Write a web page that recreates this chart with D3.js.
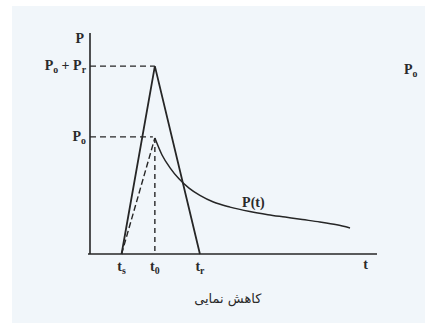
<!DOCTYPE html>
<html>
<head>
<meta charset="utf-8">
<script src="https://cdn.jsdelivr.net/npm/d3@7"></script>
<style>
  body { margin: 0; background: #ffffff; }
  svg text { font-family: "Liberation Serif", serif; fill: #2a2a2a; }
</style>
</head>
<body>
<div id="chart"></div>
<script>
// idealised load curve, in chart units (t: 0-100, P: 0-100)
let tickNames = ["t_s", "t_0", "t_r"];
let tickValues = [11, 22.6, 38.3];
let levelNames = ["P_o + P_r", "P_o"];
let levelValues = [85, 53];
let triangleT = [11, 22.6, 38.3];
let triangleP = [0, 85, 0];
let decayT = [22.6, 25.1, 27.9, 31, 34.5, 38.3, 43, 48.8, 55.7, 62, 68, 74, 80.1, 86, 90.6];
let decayP = [52.5, 44.8, 39, 34, 29.8, 26.5, 23.5, 21.2, 19.2, 17.8, 16.7, 15.6, 14.5, 13.2, 11.8];
let riseT = [11, 22.6];
let riseP = [0, 52.5];

let width = 425, height = 323;
let margin = { top: 33, left: 90, right: 48, bottom: 69 };

let svg = d3.select("#chart").append("svg")
    .attr("width", width)
    .attr("height", height);

svg.append("rect")
    .attr("x", 12).attr("y", 6)
    .attr("width", width - 12).attr("height", height - 6)
    .attr("fill", "#f1f6fa");

let x = d3.scaleLinear().domain([0, 100]).range([margin.left, width - margin.right]);
let y = d3.scaleLinear().domain([0, 100]).range([height - margin.bottom, margin.top]);

let ink = "#262626";
let line = d3.line().x(d => x(d[0])).y(d => y(d[1]));

// axes
svg.append("line")
    .attr("x1", x(0)).attr("x2", x(0))
    .attr("y1", y(0)).attr("y2", y(100))
    .attr("stroke", ink).attr("stroke-width", 1.6);
svg.append("line")
    .attr("x1", x(-0.7)).attr("x2", x(100))
    .attr("y1", y(0)).attr("y2", y(0))
    .attr("stroke", ink).attr("stroke-width", 1.6);

// dashed guides
levelValues.forEach(function(v, i) {
    svg.append("line")
        .attr("x1", x(0)).attr("x2", x(triangleT[1]) - (i ? 2 : 0))
        .attr("y1", y(v)).attr("y2", y(v))
        .attr("stroke", ink).attr("stroke-width", 1.4)
        .attr("stroke-dasharray", "6,4");
});
svg.append("line")
    .attr("x1", x(tickValues[1])).attr("x2", x(tickValues[1]))
    .attr("y1", y(riseP[1])).attr("y2", y(0))
    .attr("stroke", ink).attr("stroke-width", 1.4)
    .attr("stroke-dasharray", "5,4");
svg.append("path")
    .datum(d3.zip(riseT, riseP))
    .attr("d", line)
    .attr("fill", "none").attr("stroke", ink).attr("stroke-width", 1.4)
    .attr("stroke-dasharray", "6,3");

// triangle
svg.append("path")
    .datum(d3.zip(triangleT, triangleP))
    .attr("d", line)
    .attr("fill", "none").attr("stroke", ink).attr("stroke-width", 1.8)
    .attr("stroke-linejoin", "miter");

// decay curve P(t)
svg.append("path")
    .datum(d3.zip(decayT, decayP))
    .attr("d", line.curve(d3.curveMonotoneX))
    .attr("fill", "none").attr("stroke", ink).attr("stroke-width", 1.5);

// labels with subscripts
function subLabel(g, s, xx, yy, anchor, size) {
    let t = g.append("text")
        .attr("x", xx).attr("y", yy)
        .attr("text-anchor", anchor)
        .attr("font-size", size)
        .attr("font-weight", "bold");
    let shift = 0;
    s.split(/(_\w)/).forEach(function(part) {
        if (!part) return;
        if (part[0] === "_") {
            t.append("tspan").attr("dy", 3 - shift).attr("font-size", size * 0.7).text(part[1]);
            shift = 3;
        } else {
            t.append("tspan").attr("dy", -shift).text(part);
            shift = 0;
        }
    });
    return t;
}

svg.append("text")
    .attr("x", x(0) - 6).attr("y", y(100) + 10)
    .attr("text-anchor", "end")
    .attr("font-size", 14).attr("font-weight", "bold")
    .text("P");

levelNames.forEach(function(n, i) {
    subLabel(svg, n, x(0) - 4, y(levelValues[i]) + 4, "end", 14);
});

tickNames.forEach(function(n, i) {
    subLabel(svg, n, x(tickValues[i]), y(0) + 17, "middle", 14);
});

svg.append("text")
    .attr("x", x(96)).attr("y", y(0) + 15)
    .attr("text-anchor", "middle")
    .attr("font-size", 14).attr("font-weight", "bold")
    .text("t");

svg.append("text")
    .attr("x", x(53)).attr("y", y(19) - 5)
    .attr("font-size", 14).attr("font-weight", "bold")
    .text("P(t)");

subLabel(svg, "P_o", 404, 74, "start", 14);

svg.append("text")
    .attr("x", x(48)).attr("y", 303)
    .attr("text-anchor", "middle")
    .attr("direction", "rtl")
    .attr("font-size", 13)
    .style("font-family", "'DejaVu Sans', sans-serif")
    .text("کاهش نمایی");
</script>
</body>
</html>
